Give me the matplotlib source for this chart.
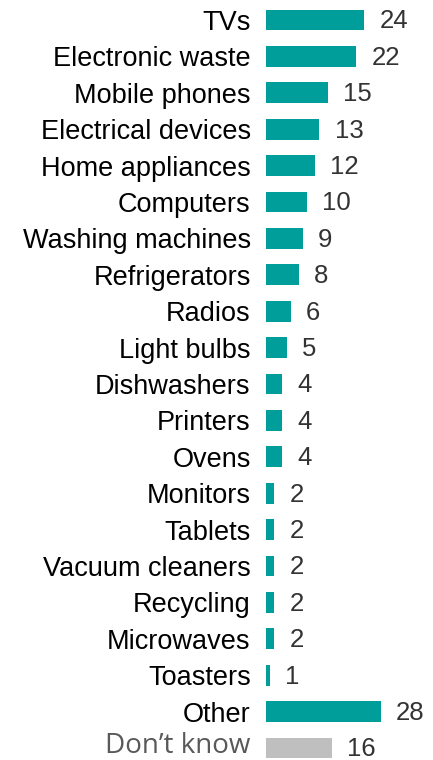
import matplotlib
matplotlib.use("Agg")
import matplotlib.pyplot as plt

categories = ["TVs", "Electronic waste", "Mobile phones", "Electrical devices",
              "Home appliances", "Computers", "Washing machines", "Refrigerators",
              "Radios", "Light bulbs", "Dishwashers", "Printers", "Ovens",
              "Monitors", "Tablets", "Vacuum cleaners", "Recycling", "Microwaves",
              "Toasters", "Other", "Don\u2019t know"]
values = [24, 22, 15, 13, 12, 10, 9, 8, 6, 5, 4, 4, 4, 2, 2, 2, 2, 2, 1, 28, 16]

TEAL = "#009E9A"
GRAY = "#BFBFBF"
colors = [TEAL] * (len(values) - 1) + [GRAY]

fig = plt.figure(figsize=(4.33, 7.6), dpi=100)
ax = fig.add_axes([266 / 433, 0, 164 / 433, 1])
pos = list(range(len(categories)))
ax.barh(pos, values, height=0.57, color=colors)
ax.set_xlim(0, 40)
ax.set_ylim((760 - 20) / 36.4, -20 / 36.4)

ax.set_yticks(pos)
ax.set_yticklabels(categories[:-1] + [""], fontsize=19.5,
                   family="Liberation Sans", color="black")
ax.tick_params(axis="y", length=0, pad=11)
ax.set_xticks([])
for s in ax.spines.values():
    s.set_visible(False)

# last category label in a different (grey, humanist) face
ax.annotate(categories[-1], (0, pos[-1]), xytext=(-11, 1.5), textcoords="offset points",
            va="center", ha="right", fontsize=20, family="Open Sans",
            color="#595959", annotation_clip=False)

for p, v in zip(pos, values):
    ax.annotate(str(v), (v, p), xytext=(11, -1), textcoords="offset points",
                va="center", ha="left", fontsize=18.5, family="Liberation Sans",
                color="#333333")

fig.savefig("out.png", dpi=100)
